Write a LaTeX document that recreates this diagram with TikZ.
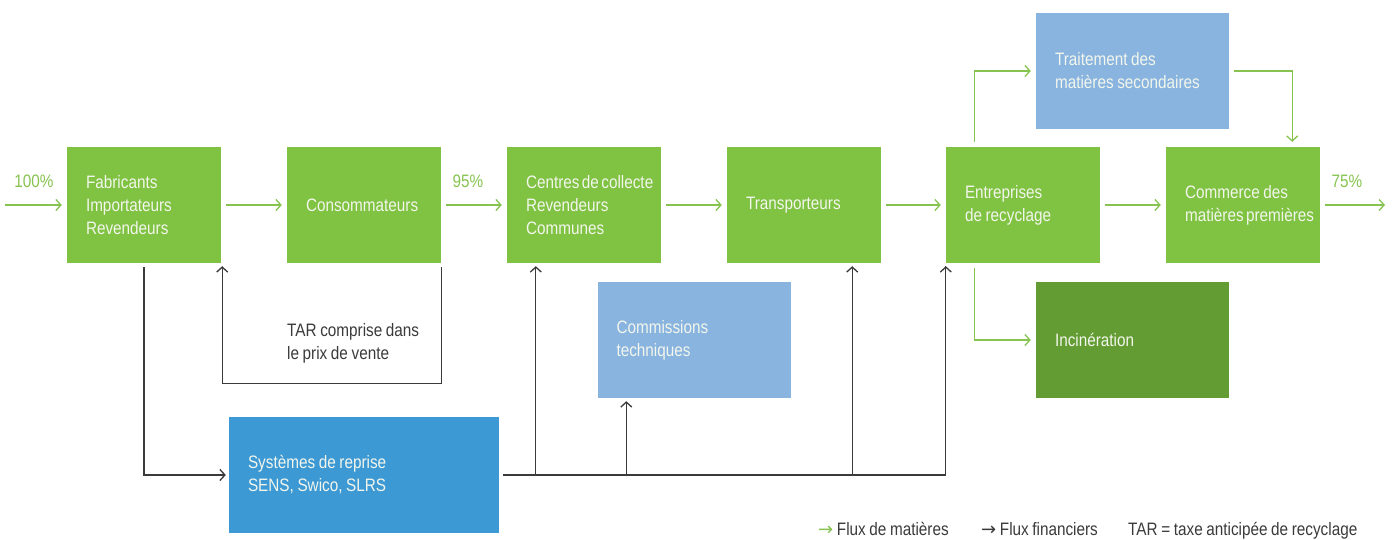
\documentclass[tikz,border=0pt]{standalone}
\usepackage{fontspec}
\setmainfont{Liberation Sans}[FakeStretch=0.85,WordSpace=0.85]
\newfontfamily\fleche{DejaVu Sans}
\usetikzlibrary{arrows.meta,positioning}
\definecolor{vert}{HTML}{80C242}
\definecolor{vertfonce}{HTML}{649C34}
\definecolor{bleuclair}{HTML}{89B4DF}
\definecolor{bleu}{HTML}{3D99D4}
\definecolor{fluxvert}{HTML}{86C350}
\definecolor{gris}{HTML}{3A3A3A}
\definecolor{blanc}{HTML}{F2F6EC}
\tikzstyle{etape}=[fill=vert,text=blanc,minimum height=116pt,text width=116pt,inner xsep=19pt,inner ysep=0pt,align=flush left,
                   execute at begin node={\hyphenpenalty=10000\exhyphenpenalty=10000}]
\tikzstyle{etapelarge}=[etape,text width=155pt]
\tikzstyle{flux}=[draw=fluxvert,line width=1.3pt,-{Straight Barb[length=5pt,width=11pt]},shorten <=5pt,shorten >=5pt]
\tikzstyle{fin}=[draw=gris,line width=1.3pt,-{Straight Barb[length=5pt,width=11pt]},shorten <=4pt,shorten >=3pt]
\tikzstyle{pct}=[text=fluxvert,inner sep=0pt,anchor=base]
\tikzstyle{legende}=[text=gris,inner sep=0pt,anchor=base west]

\begin{document}
\begin{tikzpicture}[x=1pt,y=-1pt,every node/.style={font=\fontsize{18}{23}\selectfont}]
          \useasboundingbox (0,0) rectangle (1392,540);
          \foreach \name/\x/\text in {fab/144/{Fabricants\\Importateurs\\Revendeurs},
                                      con/364/Consommateurs,
                                      cen/584/{Centres~de~collecte\\Revendeurs\\Communes},
                                      tra/804/Transporteurs,
                                      ent/1023/{Entreprises\\de~recyclage},
                                      com/1243/{Commerce~des\\matières~premières}}
            \node[etape] (\name) at (\x,205) {\text};
          \node[etapelarge,fill=bleuclair] (trt) at (1132.5,71) {Traitement~des\\matières~secondaires};
          \node[etapelarge,fill=vertfonce] (inc) at (1132.5,340) {Incinération};
          \node[etapelarge,fill=bleuclair] (cmt) at (694,340) {Commissions\\techniques};
          \node[etape,text width=232pt,fill=bleu] (sys) at (364,475) {Systèmes~de~reprise\\SENS,~Swico,~SLRS};
          \node[text=gris,inner sep=0pt,anchor=west,align=left] (tar) at (287,343) {TAR~comprise~dans\\le~prix~de~vente};
          % flux de matieres
          \coordinate (entree) at (0,205);
          \coordinate (sortie) at (1390,205);
          \foreach \from/\to in {entree/fab,fab/con,con/cen,cen/tra,tra/ent,ent/com,com/sortie}
            \draw[flux] (\from) -- (\to);
          \node[pct] (p100) at (34,188) {100\%};
          \node[pct] (p95) at (468,188) {95\%};
          \node[pct] (p75) at (1347,188) {75\%};
          \coordinate (e1) at ([xshift=29pt]ent.south west);
          \coordinate (e2) at ([xshift=29pt]ent.north west);
          \coordinate (c2) at ([xshift=-28pt]com.north east);
          \draw[flux] (e1) |- (inc.west);
          \draw[flux] (e2) |- (trt.west);
          \draw[flux] (trt.east) -| (c2);
          % flux financiers
          \draw[fin] (fab.south) |- (sys.west);
          \draw[fin] (con.south east) -- ++(0,120) -| ([xshift=1pt]fab.south east);
          \draw[fin,-] (sys.east) -| (ent.south west);
          \draw[fin,shorten <=0pt] (sys.east -| ent.south west) -- (ent.south west);
          \coordinate (b1) at ([xshift=29pt]cen.south west);
          \coordinate (b2) at ([xshift=29pt]cmt.south west);
          \coordinate (b3) at ([xshift=-29pt]tra.south east);
          \foreach \to in {b1,b2,b3}
            \draw[fin,shorten <=0pt] (sys.east -| \to) -- (\to);
          % legende
          \node[legende] (lmat) at (818,535) {\textcolor{fluxvert}{\fleche →}~Flux~de~matières};
          \node[legende] (lfin) at (981,535) {{\fleche →}~Flux~financiers};
          \node[legende] (ltar) at (1128,535) {TAR~=~taxe~anticipée~de~recyclage};
        \end{tikzpicture}
\end{document}
